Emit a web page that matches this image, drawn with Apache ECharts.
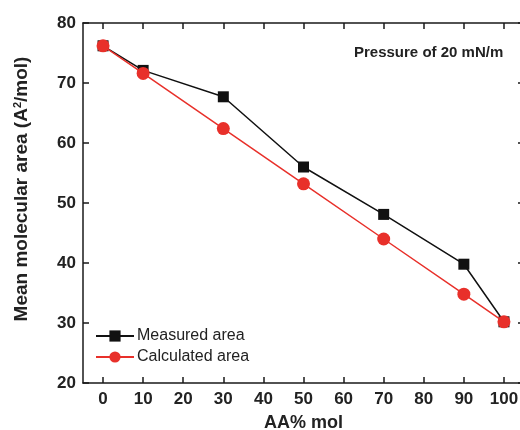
<!DOCTYPE html>
<html>
<head>
<meta charset="utf-8">
<script src="https://cdn.jsdelivr.net/npm/echarts@6/dist/echarts.min.js"></script>
<style>
  body { margin: 0; background: #fff; }
  #chart { width: 520px; height: 430px; }
</style>
</head>
<body>
<div id="chart"></div>
<script>
// AA% mol on x, mean molecular area on y
var aaPercent = [0, 10, 30, 50, 70, 90, 100];
var measured = [76.2, 72.1, 67.7, 56.0, 48.1, 39.8, 30.2];
var calculated = [76.2, 71.6, 62.4, 53.2, 44.0, 34.8, 30.2];
var xTicks = [0, 10, 20, 30, 40, 50, 60, 70, 80, 90, 100];
var yTicks = [20, 30, 40, 50, 60, 70, 80];

function pairs (xs, ys) {
  return xs.map(function (x, i) { return [x, ys[i]] })
}

var font = 'Liberation Sans, Arial, sans-serif';
var axisLine = { show: true, onZero: false, lineStyle: { color: '#1a1a1a', width: 1.5 } };
var tick = { show: true, inside: true, length: 6, lineStyle: { color: '#1a1a1a', width: 1.5 } };

var myChart = echarts.init(document.getElementById('chart'));
var option = {
  animation: false,
  grid: { left: 83, top: 23, width: 441, height: 360, outerBoundsMode: 'none' },
  title: {
    text: 'Pressure of 20 mN/m',
    left: 349,
    top: 40,
    textStyle: { fontFamily: font, fontSize: 15, fontWeight: 'bold', color: '#222' }
  },
  legend: {
    orient: 'vertical',
    left: 90,
    top: 323,
    itemWidth: 38,
    itemHeight: 14,
    itemGap: 5,
    textStyle: { fontFamily: font, fontSize: 16, color: '#222', padding: [0, 0, 0, -2] },
    data: ['Measured area', 'Calculated area']
  },
  xAxis: [
    {
      type: 'value',
      min: -5,
      max: 105,
      name: 'AA% mol',
      nameLocation: 'middle',
      nameGap: 31,
      nameTextStyle: { fontFamily: font, fontSize: 18, fontWeight: 'bold', color: '#222' },
      axisLine: axisLine,
      axisTick: Object.assign({ customValues: xTicks }, tick),
      axisLabel: { customValues: xTicks, fontFamily: font, fontSize: 17, fontWeight: 'bold', color: '#222', margin: 8 },
      splitLine: { show: false }
    },
    {
      type: 'value',
      position: 'top',
      min: -5,
      max: 105,
      axisLine: axisLine,
      axisTick: Object.assign({ customValues: xTicks }, tick),
      axisLabel: { show: false },
      splitLine: { show: false }
    }
  ],
  yAxis: [
    {
      type: 'value',
      min: 20,
      max: 80,
      interval: 10,
      name: '{a|Mean molecular area (A}{s|2}{a|/mol)}',
      nameLocation: 'middle',
      nameGap: 51,
      nameTextStyle: {
        padding: [0, 0, 0, 28],
        rich: {
          a: { fontFamily: font, fontSize: 19, fontWeight: 'bold', color: '#222' },
          s: { fontFamily: font, fontSize: 11, fontWeight: 'bold', color: '#222', verticalAlign: 'top', padding: [0, 0, 9, 0] }
        }
      },
      axisLine: axisLine,
      axisTick: tick,
      axisLabel: { fontFamily: font, fontSize: 17, fontWeight: 'bold', color: '#222', margin: 7 },
      splitLine: { show: false }
    },
    {
      type: 'value',
      position: 'right',
      min: 20,
      max: 80,
      interval: 10,
      axisLine: axisLine,
      axisTick: tick,
      axisLabel: { show: false },
      splitLine: { show: false }
    }
  ],
  series: [
    {
      name: 'Measured area',
      type: 'line',
      data: pairs(aaPercent, measured),
      symbol: 'rect',
      symbolSize: 11,
      itemStyle: { color: '#111' },
      lineStyle: { color: '#111', width: 1.5 },
      z: 2
    },
    {
      name: 'Calculated area',
      type: 'line',
      data: pairs(aaPercent, calculated),
      symbol: 'circle',
      symbolSize: 13,
      itemStyle: { color: '#e8302a' },
      lineStyle: { color: '#e8302a', width: 1.5 },
      z: 3
    }
  ]
};
myChart.setOption(option);
</script>
</body>
</html>
